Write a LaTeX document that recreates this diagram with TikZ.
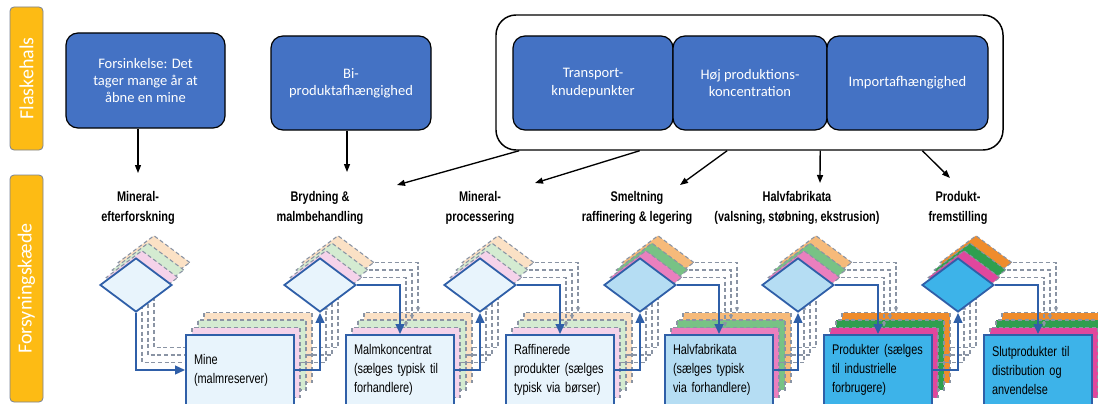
\documentclass[tikz,border=0pt]{standalone}
\usepackage{fontspec}
\setmainfont{Liberation Sans}
\newfontfamily\calibri{Carlito}
\newfontfamily\narrow[FakeStretch=0.78]{Liberation Sans}
\usetikzlibrary{shapes.geometric,arrows.meta,calc}

\definecolor{bargold}{HTML}{FDBB14}
\definecolor{navy}{HTML}{4472C4}
\definecolor{chain}{HTML}{2F5FA8}
\definecolor{dashgray}{HTML}{8A94A4}
% pale / medium / strong palettes (0 = front fill, 1 pink, 2 green, 3 orange)
\definecolor{P0}{HTML}{E8F4FC}\definecolor{P1}{HTML}{F5D3EA}\definecolor{P2}{HTML}{D4EBD1}\definecolor{P3}{HTML}{FBE1C5}
\definecolor{M0}{HTML}{B5DDF3}\definecolor{M1}{HTML}{EA7FBE}\definecolor{M2}{HTML}{78C285}\definecolor{M3}{HTML}{F6BA7A}
\definecolor{S0}{HTML}{3DB3E9}\definecolor{S1}{HTML}{E0479D}\definecolor{S2}{HTML}{2F9F4F}\definecolor{S3}{HTML}{EF8C2C}

\tikzset{every picture/.style={line width=0.75pt},
  sidebar/.style={draw={rgb, 255:red, 120; green, 130; blue, 150}, line width=0.6pt, fill=bargold, rounded corners=3pt, rotate=90, text=white, inner sep=0pt, font=\calibri\fontsize{15}{18}\selectfont},
  topbox/.style={draw=black, line width=0.9pt, fill=navy, rounded corners=9pt, text=white, align=center, inner sep=2pt, font=\calibri\fontsize{10.9}{13}\selectfont},
  stage/.style={align=center, inner sep=0pt, font=\narrow\bfseries\fontsize{10.5}{15}\selectfont},
  toparrow/.style={-{Triangle[length=6pt,width=4.5pt]}, line width=1pt},
  dia/.style={diamond, minimum width=54pt, minimum height=40.5pt, inner sep=0pt},
  maindia/.style={dia, draw=chain, line width=1.35pt},
  layerdia/.style={dia, draw=dashgray, line width=0.8pt, dash pattern=on 3pt off 2pt},
  mainbox/.style={rectangle, draw=chain, line width=1.35pt, minimum width=81pt, minimum height=52.5pt, inner xsep=6pt, text width=69pt, align=left, font=\narrow\fontsize{10.5}{14.25}\selectfont},
  layerbox/.style={rectangle, draw=dashgray, line width=0.8pt, dash pattern=on 3pt off 2pt, minimum width=81pt, minimum height=52.5pt, inner sep=0pt},
  chainline/.style={draw=chain, line width=1.5pt, -{Triangle[length=7.5pt,width=6.5pt]}},
  layerline/.style={draw=dashgray, line width=0.8pt, dash pattern=on 3pt off 2pt, -{Triangle[length=3.5pt,width=3pt]}}
}

\begin{document}
\begin{tikzpicture}[x=0.75pt,y=0.75pt,yscale=-1]
\useasboundingbox (0,0) rectangle (1098,403);

%Shape: Side bars
\node[sidebar, minimum width=107.25pt, minimum height=24.75pt] (flask) at (26.5,78.5) {Flaskehals};
\node[sidebar, minimum width=170.25pt, minimum height=24.75pt] (supply) at (26.5,288.5) {Forsyningskæde};

%Shape: Rounded Rect
\node[topbox, minimum width=119.25pt, minimum height=71.25pt] (delay) at (145.5,80.5) {Forsinkelse: Det\\tager mange år at\\åbne en mine};
\node[topbox, minimum width=120pt, minimum height=70.5pt] (biprod) at (351,83) {Bi-\\produktafhængighed};
%Shape: Rounded Rect (group)
\node[draw, rounded corners=15pt, line width=1.1pt, minimum width=380.25pt, minimum height=101.25pt] (grp) at (749.5,82.5) {};
\node[topbox, minimum width=120pt, minimum height=70.5pt] (transp) at (593,83) {Transport-\\knudepunkter};
\node[topbox, minimum width=115.5pt, minimum height=70.5pt] (hoej) at (750,83) {Høj produktions-\\koncentration};
\node[topbox, minimum width=120.75pt, minimum height=70.5pt] (imprt) at (907.5,83) {Importafhængighed};

% Text Node
\node[stage] (st1) at (138,208) {Mineral-\\efterforskning};
\node[stage] (st2) at (320,208) {Brydning \&\\malmbehandling};
\node[stage] (st3) at (480,208) {Mineral-\\processering};
\node[stage] (st4) at (637,208) {Smeltning\\raffinering \& legering};
\node[stage] (st5) at (797,208) {Halvfabrikata\\(valsning, støbning, ekstrusion)};
\node[stage] (st6) at (958,208) {Produkt-\\fremstilling};

%Straight Lines
\coordinate (ta) at (138,173);
\coordinate (tb) at (347,172);
\coordinate (tc) at (397,185);
\coordinate (td) at (535,183);
\coordinate (te) at (680,185);
\coordinate (tf) at (820,183);
\coordinate (tg) at (950,178);
\draw[toparrow] (delay.south -| ta) -- (ta);
\draw[toparrow] (biprod.south -| tb) -- (tb);
\draw[toparrow] ($(grp.south west)!0.047!(grp.south east)$) -- (tc);
\draw[toparrow] ($(grp.south west)!0.284!(grp.south east)$) -- (td);
\draw[toparrow] ($(grp.south west)!0.456!(grp.south east)$) -- (te);
\draw[toparrow] ($(grp.south west)!0.639!(grp.south east)$) -- (tf);
\draw[toparrow] ($(grp.south west)!0.840!(grp.south east)$) -- (tg);

%Shape: stacked layers behind the chain
\foreach \k in {3,2,1}{
\begin{scope}[shift={(6*\k,-7.5*\k)}]
  \foreach \i/\x/\pd in {1/136/P,2/320/P,3/480/P,4/640/M,5/798/M,6/958/S}
    \node[layerdia, fill=\pd\k] (d\i-\k) at (\x,285) {};
  \foreach \i/\x/\pb in {1/240/P,2/400/P,3/560/P,4/719/M,5/878/S,6/1038/S}
    \node[layerbox, fill=\pb\k] (b\i-\k) at (\x,370) {};
  \draw[layerline] (d1-\k.south) |- (b1-\k.west);
  \foreach \i/\j in {1/2,2/3,3/4,4/5,5/6}{
    \draw[layerline] (b\i-\k.east) -| (d\j-\k.south);
    \draw[layerline] (d\j-\k.east) -| (b\j-\k.north);
  }
\end{scope}
}

%Shape: Diamond
\foreach \i/\x/\pd in {1/136/P,2/320/P,3/480/P,4/640/M,5/798/M,6/958/S}
  \node[maindia, fill=\pd0] (d\i) at (\x,285) {};

%Shape: Rectangle
\node[mainbox, fill=P0] (b1) at (240,370) {Mine\\(malmreserver)};
\node[mainbox, fill=P0] (b2) at (400,370) {Malmkoncentrat\\(sælges typisk til\\forhandlere)};
\node[mainbox, fill=P0] (b3) at (560,370) {Raffinerede\\produkter (sælges\\typisk via børser)};
\node[mainbox, fill=M0] (b4) at (719,370) {Halvfabrikata\\(sælges typisk\\via forhandlere)};
\node[mainbox, fill=S0] (b5) at (878,370) {Produkter (sælges\\til industrielle\\forbrugere)};
\node[mainbox, fill=S0] (b6) at (1038,370) {Slutprodukter til\\distribution og\\anvendelse};

%Straight Lines (chain)
\draw[chainline] (d1.south) |- (b1.west);
\foreach \i/\j in {1/2,2/3,3/4,4/5,5/6}{
  \draw[chainline] (b\i.east) -| (d\j.south);
  \draw[chainline] (d\j.east) -| (b\j.north);
}

\end{tikzpicture}
\end{document}
